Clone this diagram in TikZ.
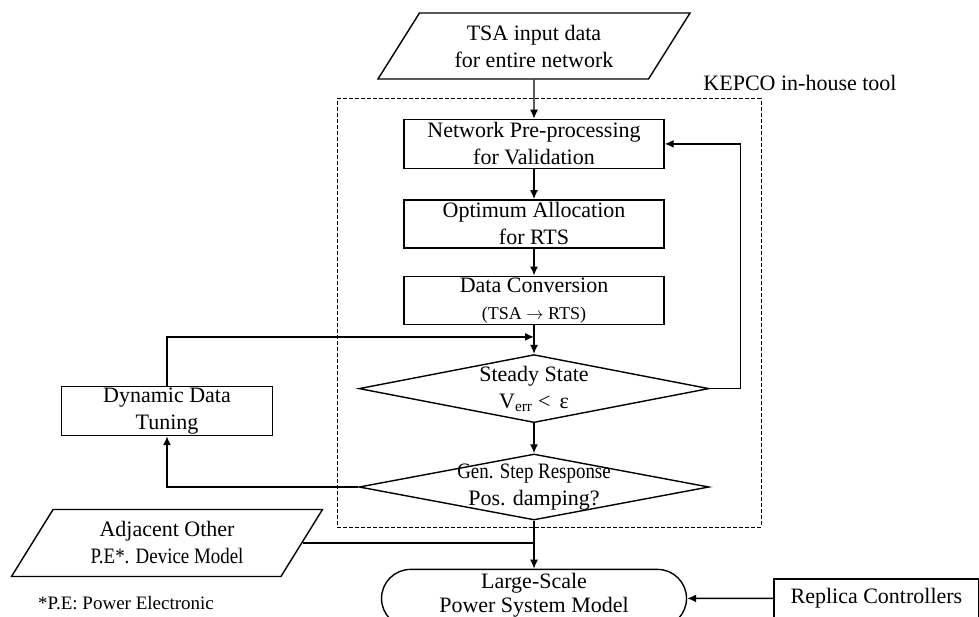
\documentclass[tikz,border=0pt]{standalone}
\usepackage{fontspec}
\setmainfont{Liberation Serif}
\usepackage{graphicx}
\usetikzlibrary{positioning,shapes.geometric,shapes.misc,fit,arrows.meta}

\begin{document}
\begin{tikzpicture}[x=1pt,y=-1pt,line width=1.4pt,
                font=\fontsize{22}{27}\selectfont,
                >={Latex[length=9pt,width=8pt]},
                box/.style={draw,rectangle,align=center,inner sep=1pt,minimum width=260pt,minimum height=48pt},
                data/.style={draw,trapezium,trapezium left angle=47,trapezium right angle=133,trapezium stretches body,align=center,inner sep=1pt,minimum width=312pt,minimum height=66pt},
                decision/.style={draw,diamond,inner sep=0pt,minimum width=350pt,minimum height=68pt},
                model/.style={draw,rounded rectangle,align=center,inner sep=1pt,minimum width=307pt,minimum height=58pt}]
                \useasboundingbox (0,0) rectangle (979,617);
                \node[data] (tsa) at (534,46) {TSA input data\\for entire network};
                \node[box,below=39pt of tsa,minimum height=49pt] (pre) {Network Pre-processing\\for Validation};
                \node[box,below=30pt of pre] (opt) {Optimum Allocation\\for RTS};
                \node[box,below=27pt of opt] (conv) {Data Conversion\\{\fontsize{18}{20}\selectfont (TSA $\rightarrow$ RTS)}};
                \node[decision,below=29pt of conv,label={[align=center]center:Steady State\\V\textsubscript{err} < \,ε}] (steady) {};
                \node[decision,below=30pt of steady,minimum height=66pt,label={[align=center]center:\scalebox{0.86}[1]{Gen. Step Response}\\Pos. damping?}] (gen) {};
                \node[model,below=48pt of gen,label={[align=center,font=\fontsize{22}{24}\selectfont,yshift=3pt]center:Large-Scale\\Power System Model}] (lsm) {};
                \node[box,right=86pt of lsm,minimum width=205pt,minimum height=39pt] (rep) {Replica Controllers};
                \node[box,minimum width=211pt,minimum height=49pt] (dyn) at (167,411) {Dynamic Data\\Tuning};
                \node[data,minimum width=311pt,minimum height=67pt] (adj) at (167,543) {Adjacent Other\\\scalebox{0.86}[1]{P.E*. Device Model}};
                \node[font=\fontsize{19}{22}\selectfont] (note) at (126,603) {*P.E: Power Electronic};
                \node[draw,dash pattern=on 4pt off 2pt,line width=1pt,minimum width=424pt,minimum height=428pt] (tool) at (549,313) {};
                \node (tooltxt) at (800,83) {KEPCO in-house tool};
                \coordinate (join) at ([yshift=-12pt]conv.south);
                \draw[->] (tsa) -- (pre);
                \draw[->] (pre) -- (opt);
                \draw[->] (opt) -- (conv);
                \draw[->] (conv) -- (steady);
                \draw[->] (steady) -- (gen);
                \draw[->] (gen) -- (lsm);
                \draw (adj.east) -- (adj.east -| gen.south);
                \draw[->] (rep) -- (lsm);
                \draw[->] (steady.east) -- ++(31,0) |- (pre.east);
                \draw[->] (gen.west) -| (dyn.south);
                \draw[->] (dyn.north) |- (join);
            \end{tikzpicture}
\end{document}
